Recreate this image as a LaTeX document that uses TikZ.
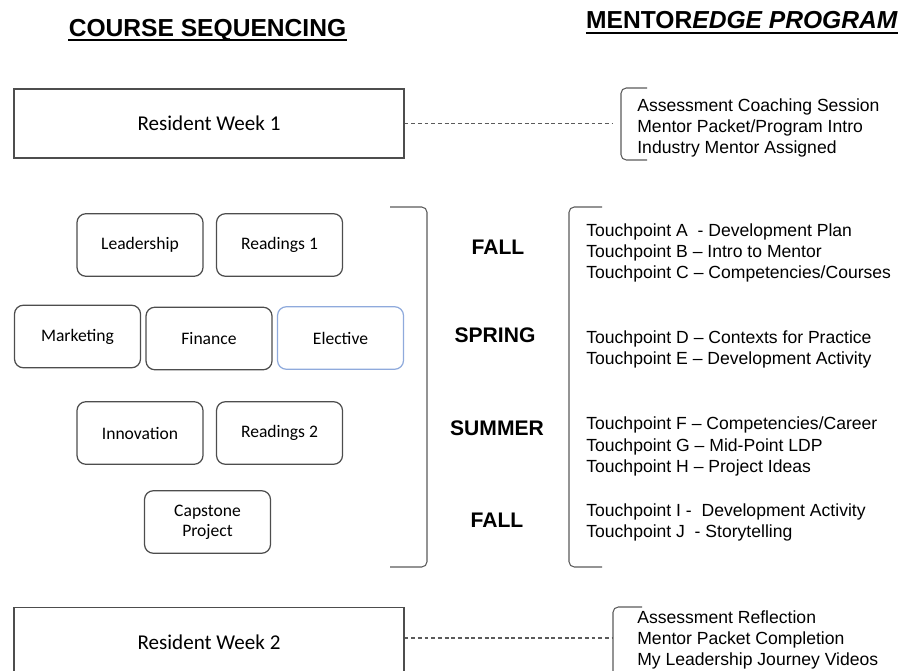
\documentclass[tikz,border=0pt]{standalone}
\usepackage{fontspec}
\setmainfont{Liberation Sans}
\newfontfamily\calfont{Carlito}
\definecolor{boxgray}{HTML}{4D4D4D}
\definecolor{brgray}{HTML}{5A5A5A}
\definecolor{elecblue}{HTML}{8FAADC}

\begin{document}
\begin{tikzpicture}[x=0.02cm, y=-0.02cm,
    weekbox/.style={draw=boxgray, line width=0.7pt, minimum width=7.8cm, minimum height=1.38cm,
                    font=\calfont\fontsize{12}{14}\selectfont},
    course/.style={draw=boxgray, line width=0.7pt, rounded corners=5pt, minimum width=2.52cm,
                   minimum height=1.25cm, align=center, font=\calfont\fontsize{10}{11.5}\selectfont},
    season/.style={font=\bfseries\fontsize{12}{14}\selectfont},
    plist/.style={anchor=west, align=left, inner sep=0pt, font=\fontsize{10}{12}\selectfont},
    brack/.style={draw=brgray, line width=0.6pt, rounded corners=3pt},
    header/.style={anchor=base, inner sep=0pt, font=\bfseries\fontsize{14}{16}\selectfont},
    link/.style={draw=brgray, line width=0.6pt, dash pattern=on 2.2pt off 1.6pt}]
        \useasboundingbox (0,0) rectangle (912,671);
        \clip (0,0) rectangle (912,671);
        % headings
        \node[header] (hdcourse) at (207.5,36.5) {COURSE SEQUENCING};
        \node[header] (hdmentor) at (742,28.5)   {MENTOR\textit{EDGE PROGRAM}};
        \draw[line width=1.1pt] ([yshift=-2pt]hdcourse.base west) -- ([yshift=-2pt]hdcourse.base east);
        \draw[line width=1.1pt] ([yshift=-2.4pt]hdmentor.base west) -- ([yshift=-2.4pt]hdmentor.base east);
        % resident week 1
        \node[weekbox] (week1) at (209,123.5) {Resident Week 1};
        \coordinate (br1) at (612,123.5);
        \draw[link] (week1) -- (br1);
        \draw[brack] (647,88) -- (621,88) -- (621,160) -- (647,160);   %
        \node[plist] (list1) at (637,128) {Assessment Coaching Session\\Mentor Packet/Program Intro\\Industry Mentor Assigned};
        % courses
        \node[course] (leader)  at (140,245)   {Leadership};
        \node[course] (read1)   at (279.5,245) {Readings 1};
        \node[course] (market)  at (77.5,336.5) {Marketing};
        \node[course] (finance) at (209,338.5) {Finance};
        \node[course, draw=elecblue] (elective) at (340.5,338) {Elective};
        \node[course] (innov)   at (140,433)   {Innovation};
        \node[course] (read2)   at (279.5,433) {Readings 2};
        \node[course] (capst)   at (207.5,522) {Capstone\\Project};
        \draw[brack] (390,207) -- (427,207) -- (427,567) -- (390,567);  % ]
        % seasons
        \node[season] (fall1)  at (498,247) {FALL};
        \node[season] (spring) at (495,335) {SPRING};
        \node[season] (summer) at (497,428) {SUMMER};
        \node[season] (fall2)  at (497,520) {FALL};
        \draw[brack] (602,207) -- (569,207) -- (569,567) -- (602,567);  % [
        % touchpoints
        \node[plist] (tpabc) at (586,253)   {Touchpoint A\ \ - Development Plan\\Touchpoint B – Intro to Mentor\\Touchpoint C – Competencies/Courses};
        \node[plist] (tpde)  at (586,349.5) {Touchpoint D – Contexts for Practice\\Touchpoint E – Development Activity};
        \node[plist] (tpfgh) at (586,446.5) {Touchpoint F – Competencies/Career\\Touchpoint G – Mid-Point LDP\\Touchpoint H – Project Ideas};
        \node[plist] (tpij)  at (586,522.5) {Touchpoint I -\ \ Development Activity\\Touchpoint J\ \ - Storytelling};
        % resident week 2
        \node[weekbox] (week2) at (209,642) {Resident Week 2};
        \coordinate (br2) at (612,638);
        \draw[link] (week2.east |- br2) -- (br2);
        \draw[brack] (642,607) -- (613,607) -- (613,700);               %
        \node[plist] (list2) at (637,640) {Assessment Reflection\\Mentor Packet Completion\\My Leadership Journey Videos};
\end{tikzpicture}
\end{document}
